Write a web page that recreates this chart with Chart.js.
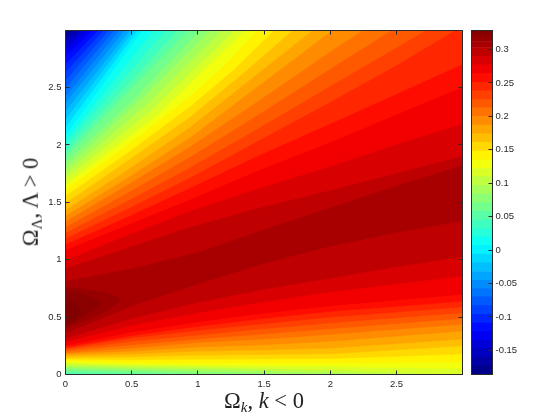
<!DOCTYPE html>
<html><head><meta charset="utf-8">
<style>
html,body{margin:0;padding:0;background:#fff;width:560px;height:420px;overflow:hidden}
canvas{position:absolute;left:0;top:0}
.t{position:absolute;font-family:"Liberation Serif",serif;font-size:22.5px;color:#222;white-space:nowrap;line-height:1}
.t sub{font-size:15px;line-height:0;vertical-align:-4px}
</style>
<script src="https://cdn.jsdelivr.net/npm/chart.js@4"></script>
</head><body>
<canvas id="main" width="560" height="420"></canvas>
<canvas id="bar" width="560" height="420"></canvas>
<div class="t" style="left:264px;top:390px;transform:translateX(-50%)">Ω<sub><i>k</i></sub>, <i>k</i> &lt; 0</div>
<div class="t" style="left:31px;top:202px;transform:translate(-50%,-50%) rotate(-90deg)">Ω<sub>Λ</sub>, Λ &gt; 0</div>
<script>
const levels=[-0.186,-0.173,-0.160,-0.147,-0.135,-0.122,-0.109,-0.096,-0.083,-0.070,-0.058,-0.045,-0.032,-0.019,-0.006,0.007,0.020,0.032,0.045,0.058,0.071,0.084,0.097,0.110,0.122,0.135,0.148,0.161,0.174,0.187,0.200,0.213,0.225,0.238,0.251,0.264,0.277,0.290,0.303,0.312,0.319,0.325];
const levelTop=0.328;
const c00=[[0,0],[3,0],[3,3],[0,3]];
const c01=[[0,2.95],[.05,3],[3,3],[3,0],[0,0]];
const c02=[[0,2.91],[.09,3],[3,3],[3,0],[0,0]];
const c03=[[0,2.86],[.13,3],[3,3],[3,0],[0,0]];
const c04=[[0,2.82],[.17,3],[3,3],[3,0],[0,0]];
const c05=[[0,2.77],[.21,3],[3,3],[3,0],[0,0]];
const c06=[[0,2.70],[.25,3],[3,3],[3,0],[0,0]];
const c07=[[0,2.63],[.29,3],[3,3],[3,0],[0,0]];
const c08=[[0,2.56],[.33,3],[3,3],[3,0],[0,0]];
const c09=[[0,2.49],[.37,3],[3,3],[3,0],[0,0]];
const c10=[[0,2.42],[.41,3],[3,3],[3,0],[0,0]];
const c11=[[0,2.36],[.45,3],[3,3],[3,0],[0,0]];
const c12=[[0,2.29],[.49,3],[3,3],[3,0],[0,0]];
const c13=[[0,2.22],[.52,3],[3,3],[3,0],[0,0]];
const c14=[[0,2.15],[.55,3],[3,3],[3,0],[0,0]];
const c15=[[0,2.08],[.585,3],[3,3],[3,0],[0,0]];
const c16=[[0,2.03],[.67,3],[3,3],[3,0],[0,0]];
const c17=[[0,1.99],[.76,3],[3,3],[3,0],[.05,0],[0,.003]];
const c18=[[0,1.94],[.85,3],[3,3],[3,0],[.5,0],[0,.012]];
const c19=[[0,1.90],[.93,3],[3,3],[3,0],[.95,0],[0,.025]];
const c20=[[0,1.85],[.5,2.38],[1.02,3],[3,3],[3,0],[1.4,0],[1,.01],[.5,.03],[0,.045]];
const c21=[[0,1.80],[.55,2.37],[1.10,3],[3,3],[3,0],[1.95,0],[1.5,.015],[1,.03],[.5,.045],[0,.06]];
const c22=[[0,1.75],[.6,2.335],[1.19,3],[3,3],[3,0],[2.5,0],[2,.02],[1.5,.035],[1,.05],[.5,.06],[0,.075]];
const c23=[[0,1.70],[.65,2.30],[1.28,3],[3,3],[3,0],[2.5,.02],[2,.04],[1.5,.052],[1,.065],[.5,.075],[0,.09]];
const c24=[[0,1.65],[.7,2.265],[1.36,3],[3,3],[3,.05],[2.5,.06],[2,.07],[1.5,.075],[1,.08],[.5,.09],[0,.105]];
const c25=[[0,1.61],[.47,2.00],[.94,2.42],[1.2,2.69],[1.45,3],[3,3],[3,.11],[2.5,.105],[2,.10],[1.5,.10],[1,.10],[.5,.105],[0,.12]];
const c26=[[0,1.55],[.47,1.93],[.94,2.33],[1.27,2.65],[1.58,3],[3,3],[3,.18],[2.5,.16],[2,.14],[1.5,.137],[1,.135],[.5,.13],[0,.135]];
const c27=[[0,1.49],[.47,1.86],[.94,2.24],[1.33,2.61],[1.72,3],[3,3],[3,.25],[2.5,.215],[2,.18],[1.5,.175],[1,.17],[.5,.155],[0,.15]];
const c28=[[0,1.43],[.47,1.78],[.94,2.15],[1.4,2.57],[1.87,3],[3,3],[3,.31],[2.5,.27],[2,.23],[1.5,.215],[1,.205],[.5,.18],[0,.165]];
const c29=[[0,1.38],[.47,1.71],[.94,2.06],[1.48,2.53],[2.02,3],[3,3],[3,.38],[2.5,.335],[2,.29],[1.5,.26],[1,.24],[.5,.205],[0,.18]];
const c30=[[0,1.33],[.47,1.65],[.94,1.98],[1.47,2.39],[2,2.81],[2.25,3],[3,3],[3,.44],[2.5,.395],[2,.35],[1.5,.31],[1,.28],[.5,.23],[0,.19]];
const c31=[[0,1.28],[.47,1.58],[.94,1.89],[1.47,2.27],[2,2.66],[2.47,3],[3,3],[3,.49],[2.5,.445],[2,.40],[1.5,.355],[1,.31],[.5,.26],[0,.205]];
const c32=[[0,1.23],[.47,1.51],[.94,1.80],[1.47,2.15],[2,2.51],[2.73,3],[3,3],[3,.54],[2.5,.495],[2,.45],[1.5,.40],[1,.345],[.5,.29],[0,.22]];
const c33=[[0,1.18],[.47,1.44],[.94,1.71],[1.47,2.04],[2,2.37],[2.5,2.69],[2.95,3],[3,2.97],[3,.59],[2.5,.545],[2,.50],[1.5,.445],[1,.385],[.5,.32],[0,.23]];
const c34=[[0,1.13],[.47,1.37],[.94,1.62],[1.47,1.91],[2,2.18],[2.5,2.44],[3,2.70],[3,.64],[2.5,.595],[2,.55],[1.5,.49],[1,.42],[.5,.34],[0,.24]];
const c35=[[0,1.08],[.47,1.30],[.94,1.52],[1.47,1.78],[2,2.02],[2.5,2.26],[3,2.50],[3,.70],[2.5,.65],[2,.60],[1.5,.535],[1,.46],[.5,.37],[0,.255]];
const c36=[[0,.99],[.47,1.21],[.94,1.42],[1.47,1.62],[2,1.81],[2.5,2.0],[3,2.18],[3,.86],[2.5,.79],[2,.72],[1.5,.635],[1,.54],[.5,.43],[0,.285]];
const c37=[[0,.92],[.47,1.10],[.94,1.28],[1.47,1.45],[2,1.60],[2.5,1.75],[3,1.90],[3,1.03],[2.5,.94],[2,.84],[1.5,.745],[1,.63],[.5,.49],[0,.315]];
const c38=[[0,.81],[.5,.92],[1,1.06],[1.5,1.26],[2,1.45],[2.5,1.64],[3,1.82],[3,1.34],[2.5,1.24],[2,1.12],[1.5,.97],[1,.79],[.5,.60],[0,.36]];
const c39=[[0,.76],[.15,.74],[.3,.71],[.41,.65],[.3,.55],[.15,.47],[0,.40]];
const c40=[[0,.72],[.13,.70],[.26,.62],[.15,.52],[0,.42]];
const c41=[[0,.64],[.07,.62],[.11,.55],[.07,.47],[0,.44]];
const contours=[c00,c01,c02,c03,c04,c05,c06,c07,c08,c09,c10,c11,c12,c13,c14,c15,c16,c17,c18,c19,c20,c21,c22,c23,c24,c25,c26,c27,c28,c29,c30,c31,c32,c33,c34,c35,c36,c37,c38,c39,c40,c41];

const vMin=-0.186,vMax=0.328;
function cl(v){return Math.round(255*Math.max(0,Math.min(1,v)));}
function jet(v){const t=(v-vMin)/(vMax-vMin);
  return `rgb(${cl(Math.min(4*t-1.5,-4*t+4.5))},${cl(Math.min(4*t-.5,-4*t+3.5))},${cl(Math.min(4*t+.5,-4*t+2.5))})`;}
const bandHi=i=>i+1<levels.length?levels[i+1]:levelTop;
const bandColor=i=>jet((levels[i]+bandHi(i))/2);
const INK='#2a2a2a';
const fmt=v=>String(+(+v).toFixed(2));
function fit(p){return s=>{if(s.isHorizontal())s.height=p;else s.width=p;};}
const L=65.5,R=462.5,T=30.5,B=374.5,W=560,H=420;

function frame(pos,size,extra){
  return Object.assign({type:'linear',position:pos,afterFit:fit(size),
    border:{display:true,color:INK,width:1,z:2},
    grid:{drawOnChartArea:false,drawTicks:true,tickLength:-4,tickColor:INK,tickWidth:1,z:2}},extra);
}
const tickFont={family:'"Liberation Sans",Arial,sans-serif',size:9.5};
new Chart(document.getElementById('main'),{
  type:'scatter',
  data:{datasets:contours.map((c,i)=>({
    data:c.map(p=>({x:p[0],y:p[1]})),
    showLine:true,fill:'shape',pointRadius:0,tension:i>=39?0.3:0,
    borderWidth:0.6,borderColor:bandColor(i),backgroundColor:bandColor(i),order:-i}))},
  options:{responsive:false,animation:false,
    layout:{padding:0},
    plugins:{legend:{display:false},tooltip:{enabled:false},title:{display:false}},
    scales:{
      x:frame('bottom',H-B,{min:0,max:2.998,ticks:{stepSize:.5,includeBounds:false,color:INK,font:tickFont,padding:8,maxRotation:0,callback:fmt}}),
      y:frame('left',L,{min:0,max:2.997,ticks:{stepSize:.5,includeBounds:false,color:INK,font:tickFont,padding:8,callback:fmt}}),
      x2:frame('top',T,{min:0,max:2.998,ticks:{stepSize:.5,includeBounds:false,display:false}}),
      y2:frame('right',W-R,{min:0,max:2.997,ticks:{stepSize:.5,includeBounds:false,display:false}})
    }}
});
const L2=471.5,R2=492.5;
new Chart(document.getElementById('bar'),{
  type:'bar',
  data:{labels:['levels'],datasets:levels.map((l,i)=>({
    data:[[l,bandHi(i)]],backgroundColor:bandColor(i),borderWidth:0,barPercentage:1,categoryPercentage:1}))},
  options:{responsive:false,animation:false,
    layout:{padding:0},
    plugins:{legend:{display:false},tooltip:{enabled:false}},
    scales:{
      x:{stacked:true,position:'bottom',afterFit:fit(H-B),border:{display:true,color:INK,z:2},grid:{display:false},ticks:{display:false}},
      xt:{type:'category',labels:['levels'],position:'top',afterFit:fit(T),border:{display:true,color:INK,z:2},grid:{display:false},ticks:{display:false}},
      yl:{type:'linear',position:'left',min:vMin,max:0.3284,afterFit:fit(L2),border:{display:true,color:INK,z:2},grid:{display:false},ticks:{display:false}},
      y:frame('right',W-R2,{min:vMin,max:0.3284,ticks:{stepSize:.05,includeBounds:false,color:INK,font:tickFont,padding:7,callback:fmt}})
    }}
});
</script>
</body></html>
